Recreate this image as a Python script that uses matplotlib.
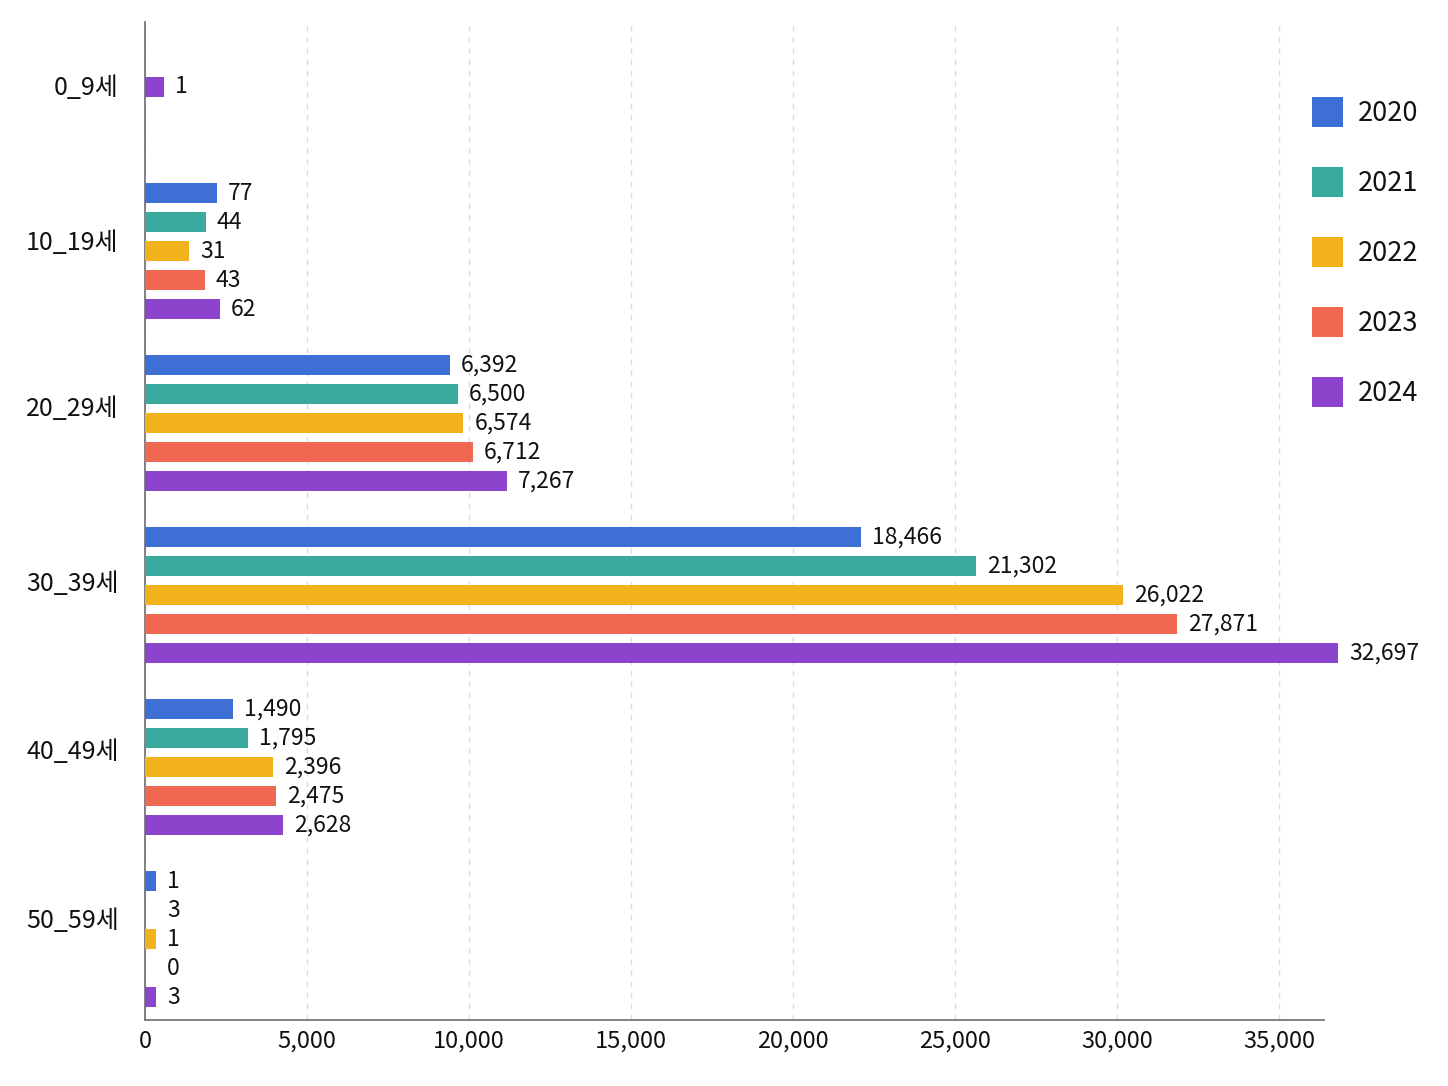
import matplotlib
matplotlib.use("Agg")
import matplotlib.pyplot as plt
from matplotlib.patches import Patch

plt.rcParams['font.family'] = ['Noto Sans CJK KR', 'DejaVu Sans']
plt.rcParams['font.weight'] = 'medium'

# ---------------- data ----------------
categories = ['0_9세', '10_19세', '20_29세', '30_39세', '40_49세', '50_59세']
years = ['2020', '2021', '2022', '2023', '2024']

# values printed next to the bars
label_2020 = [None, 77, 6392, 18466, 1490, 1]
label_2021 = [None, 44, 6500, 21302, 1795, 3]
label_2022 = [None, 31, 6574, 26022, 2396, 1]
label_2023 = [None, 43, 6712, 27871, 2475, 0]
label_2024 = [1, 62, 7267, 32697, 2628, 3]

# bar lengths as drawn in the picture (axis units)
bar_2020 = [None, 2230, 9410, 22110, 2725, 330]
bar_2021 = [None, 1875, 9650, 25650, 3190, 0]
bar_2022 = [None, 1360, 9825, 30195, 3940, 330]
bar_2023 = [None, 1845, 10115, 31845, 4035, 0]
bar_2024 = [585, 2315, 11175, 36830, 4270, 330]

labels_all = [label_2020, label_2021, label_2022, label_2023, label_2024]
bars_all = [bar_2020, bar_2021, bar_2022, bar_2023, bar_2024]

colors = ['#3E6FD4', '#3AAA9E', '#F2B21E', '#F06852', '#8C44CC']

# ---------------- figure ----------------
fig = plt.figure(figsize=(14.48, 10.86), dpi=100)
ax = fig.add_axes([0.10014, 0.06077, 0.81422, 0.91897])

step = 0.1686
height = 0.1163
min_label_x = 330

for g in range(len(categories)):
    present = [s for s in range(len(years)) if labels_all[s][g] is not None]
    n = len(present)
    for k, s in enumerate(present):
        if n == 1:
            y = g + 0.044
        else:
            y = g + (k - (n - 1) / 2) * step
        w = bars_all[s][g]
        if w and w > 0:
            ax.barh(y, w, height=height, color=colors[s], clip_on=False,
                    zorder=3, linewidth=0)
        ax.annotate(f"{labels_all[s][g]:,}", xy=(max(w, min_label_x), y),
                    xytext=(8, 0), textcoords='offset points',
                    va='center', ha='left', fontsize=16.5, color='#111111',
                    annotation_clip=False, zorder=4)

ax.set_xlim(0, 36389)
ax.set_ylim(5.4709, -0.3314)

xt = list(range(0, 35001, 5000))
ax.set_xticks(xt)
ax.set_xticklabels([f"{v:,}" for v in xt])
tick_pos = [0.035, 0.936, 1.901, 2.919, 3.895, 4.878]
ax.set_yticks(tick_pos)
ax.set_yticklabels(categories)

ax.tick_params(axis='x', length=0, pad=7, labelsize=17, labelcolor='#111111')
ax.tick_params(axis='y', length=0, pad=19, labelsize=18, labelcolor='#111111')

ax.xaxis.grid(True, linestyle=(0, (4, 4)), color='#dcdcdc', linewidth=1, zorder=0)
ax.yaxis.grid(False)
ax.set_axisbelow(True)

for side in ['top', 'right']:
    ax.spines[side].set_visible(False)
for side in ['left', 'bottom']:
    ax.spines[side].set_color('#777777')
    ax.spines[side].set_linewidth(1.3)

handles = [Patch(facecolor=c, edgecolor='none') for c in colors]
fig.legend(handles, years, loc='upper left', bbox_to_anchor=(0.9059, 0.9111),
           frameon=False, fontsize=19.5, handlelength=1.15, handleheight=1.37,
           handletextpad=0.57, labelspacing=1.45, borderpad=0, borderaxespad=0,
           labelcolor='#111111')

fig.savefig('out.png', dpi=100, facecolor='white')
